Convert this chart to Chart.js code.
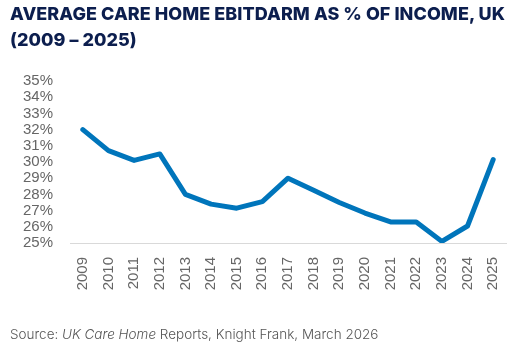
<html>
  <head>
    <meta charset="utf-8" />
    <title>Average care home EBITDARM</title>
    <style>
      body { margin: 0; background: #fff; width: 510px; height: 352px; overflow: hidden; position: relative; }
      #title {
        position: absolute; left: 10px; top: 1px;
        font-family: Inter, "Open Sans", sans-serif; font-weight: 800;
        font-size: 18px; line-height: 26px; color: #0c1e4e; letter-spacing: 0.05px;
      }
      #source {
        position: absolute; left: 10px; top: 326px;
        font-family: Inter, "Open Sans", sans-serif; font-weight: 300;
        font-size: 13.5px; color: #555;
      }
      canvas { position: absolute; left: 0; top: 0; }
    </style>
  </head>
  <body>
    <canvas id="chart" width="510" height="352"></canvas>
    <div id="title">AVERAGE CARE HOME EBITDARM AS % OF INCOME, UK<br />(2009 – 2025)</div>
    <div id="source">Source: <i>UK Care Home</i> Reports, Knight Frank, March 2026</div>

    <script src="https://cdn.jsdelivr.net/npm/chart.js"></script>
    <script>
      // years on the x axis
      var years = ["2009", "2010", "2011", "2012", "2013", "2014", "2015", "2016", "2017",
                   "2018", "2019", "2020", "2021", "2022", "2023", "2024", "2025"];
      // EBITDARM as % of income
      var ebitdarm = [32.0, 30.7, 30.1, 30.5, 28.0, 27.4, 27.15, 27.55, 29.0,
                      28.25, 27.5, 26.85, 26.3, 26.3, 25.1, 26.05, 30.15];
      var yMin = 25, yMax = 35, yStep = 1;

      var ctx = document.getElementById("chart").getContext("2d");
      new Chart(ctx, {
        type: "line",
        data: {
          labels: years,
          datasets: [{
            data: ebitdarm,
            borderColor: "#0075bb",
            borderWidth: 5,
            borderJoinStyle: "round",
            borderCapStyle: "round",
            pointRadius: 0,
            tension: 0,
            fill: false,
          }],
        },
        options: {
          responsive: false,
          animation: false,
          devicePixelRatio: 1,
          layout: { padding: { top: 81, right: 4, left: 0, bottom: 49 } },
          plugins: { legend: { display: false }, tooltip: { enabled: false } },
          scales: {
            x: {
              offset: true,
              grid: { display: false, drawTicks: false },
              border: { display: true, color: "#d9d9d9", width: 1 },
              ticks: {
                autoSkip: false,
                minRotation: 90, maxRotation: 90, padding: 14,
                color: "#666", font: { family: "'Liberation Sans', Arial", size: 15 },
              },
              afterFit: function (s) { s.height = 60; s.paddingLeft = 0; s.paddingRight = 0; },
            },
            y: {
              min: yMin, max: yMax,
              grid: { display: false, drawTicks: false },
              border: { display: false },
              ticks: {
                autoSkip: false,
                stepSize: yStep, padding: 17,
                color: "#666", font: { family: "'Liberation Sans', Arial", size: 15 },
                callback: function (v) { return v + "%"; },
              },
              afterFit: function (s) { s.width = 70; s.paddingTop = 0; s.paddingBottom = 0; },
            },
          },
        },
      });
    </script>
  </body>
</html>
